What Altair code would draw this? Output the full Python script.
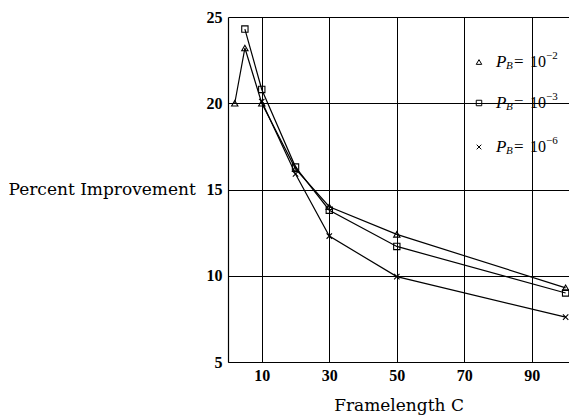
import altair as alt
import pandas as pd

# ---- data ----
tri_x = [2, 5, 10, 20, 30, 50, 100]
tri_y = [20.0, 23.2, 20.0, 16.2, 14.0, 12.4, 9.3]
sq_x = [5, 10, 20, 30, 50, 100]
sq_y = [24.3, 20.8, 16.3, 13.8, 11.7, 9.0]
cr_x = [10, 20, 30, 50, 100]
cr_y = [20.1, 15.9, 12.3, 9.95, 7.6]

series_names = ["1e-2", "1e-3", "1e-6"]
legend_exps = ["\u22122", "\u22123", "\u22126"]
x_ticks = [10, 30, 50, 70, 90]
y_ticks = [5, 10, 15, 20, 25]

CROSS = "M-0.85,-0.85L0.85,0.85M-0.85,0.85L0.85,-0.85"
shapes = ["triangle-up", "square", CROSS]
FONT = "Liberation Serif"
TFONT = "DejaVu Serif"

rows = []
for name, xs, ys in zip(series_names, [tri_x, sq_x, cr_x], [tri_y, sq_y, cr_y]):
    for a, b in zip(xs, ys):
        rows.append({"series": name, "C": a, "P": b})
df = pd.DataFrame(rows)

xenc = alt.X("C:Q", scale=alt.Scale(domain=[0, 101], nice=False),
             axis=alt.Axis(values=x_ticks, title="Framelength C", titleY=43,
                           titleBaseline="middle", labelPadding=5))
yenc = alt.Y("P:Q", scale=alt.Scale(domain=[5, 25], nice=False),
             axis=alt.Axis(values=y_ticks, title="Percent Improvement", titleAngle=0,
                           titleAlign="left", titleX=-220, titleY=177,
                           titleBaseline="alphabetic", labelPadding=6))

lines = alt.Chart(df).mark_line(color="black", strokeWidth=1.2).encode(
    x=xenc, y=yenc, detail="series:N")
points = alt.Chart(df).mark_point(filled=False, color="black", strokeWidth=1.1, size=40, opacity=1).encode(
    x="C:Q", y="P:Q",
    shape=alt.Shape("series:N", scale=alt.Scale(domain=series_names, range=shapes), legend=None))

layers = [lines, points]
row_y = [45, 86, 130]
one = pd.DataFrame({"a": [0]})
for shp, ey, ry in zip(shapes, legend_exps, row_y):
    layers.append(alt.Chart(one).mark_point(shape=shp, filled=False, color="black", size=30,
                                            strokeWidth=1, opacity=1).encode(
        x=alt.value(251), y=alt.value(ry)))
    base = dict(font=FONT, color="black", baseline="middle", align="left")
    layers.append(alt.Chart(one).mark_text(text="P", fontSize=17, fontStyle="italic", **base).encode(
        x=alt.value(268), y=alt.value(ry)))
    layers.append(alt.Chart(one).mark_text(text="B", fontSize=11, fontStyle="italic", **base).encode(
        x=alt.value(278), y=alt.value(ry + 4)))
    layers.append(alt.Chart(one).mark_text(text="=", fontSize=17, **base).encode(
        x=alt.value(286), y=alt.value(ry)))
    layers.append(alt.Chart(one).mark_text(text="10", fontSize=16, **base).encode(
        x=alt.value(302), y=alt.value(ry)))
    layers.append(alt.Chart(one).mark_text(text=ey, fontSize=11, **base).encode(
        x=alt.value(318), y=alt.value(ry - 6)))

chart = alt.layer(*layers).properties(
    width=341, height=345,
    autosize=alt.AutoSizeParams(type="none"),
    padding={"left": 220, "top": 9, "right": 0, "bottom": 54},
).configure_view(strokeWidth=0).configure_axis(
    grid=True, gridColor="black", gridOpacity=1, gridWidth=1,
    domainColor="black", domainWidth=1.2, tickSize=0,
    labelFont=FONT, labelFontSize=16, labelFontWeight="bold", labelColor="black",
    titleFont=TFONT, titleFontSize=17, titleFontWeight="normal", titleColor="black",
)

chart.save("out.html", embed_options={"renderer": "svg", "actions": False})
